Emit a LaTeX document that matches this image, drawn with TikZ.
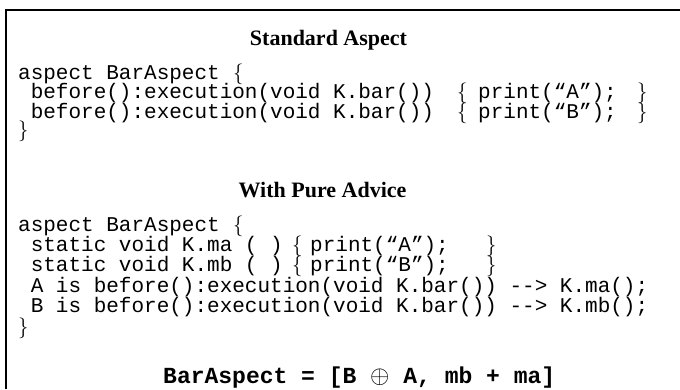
\documentclass[tikz,border=0pt]{standalone}
\usepackage{fontspec}
\setmainfont{Liberation Serif}
\setmonofont{Liberation Mono}
\newcommand\codefont{\fontsize{21}{21}\selectfont\ttfamily}
\newcommand\sumfont{\fontsize{23}{23}\selectfont\ttfamily\bfseries}
\newcommand\headfont{\fontsize{22}{22}\selectfont\bfseries}
\begin{document}
\begin{tikzpicture}[x=1pt,y=-1pt,
  code/.style={anchor=base west, inner sep=0pt, font=\codefont,
               text height=0.62em, text depth=0.12em},
  head/.style={anchor=base, inner sep=0pt, font=\headfont},
  frame/.style={line width=2pt}]
\useasboundingbox (0,0) rectangle (680,389);

% open frame: top and left edges only
\coordinate (tr) at (680,10);
\coordinate (tl) at (6,10);
\coordinate (bl) at (6,389);
\draw[frame] (tr) -- (tl) -- (bl);

% ---- standard aspect ----
\node[head] (h1) at (328.5,45) {Standard Aspect};
\node[code] (a1) at (18,79) {aspect BarAspect};
\node[code] (a1o) at (233,79) {$\{$};
\node[code] (a2) at (30.6,98) {before():execution(void K.bar())};
\node[code] (a2o) at (457,98) {$\{$};
\node[code] (a2b) at (478,98) {print(“A”);};
\node[code] (a2c) at (637,98) {$\}$};
\node[code] (a3) at (30.6,118) {before():execution(void K.bar())};
\node[code] (a3o) at (457,118) {$\{$};
\node[code] (a3b) at (478,118) {print(“B”);};
\node[code] (a3c) at (637,118) {$\}$};
\node[code] (a4) at (18,136) {$\}$};

% ---- pure advice ----
\node[head] (h2) at (322.5,197) {With Pure Advice};
\node[code] (b1) at (18,231) {aspect BarAspect};
\node[code] (b1o) at (233,231) {$\{$};
\node[code] (b2) at (30.6,251) {static void K.ma ( )};
\node[code] (b2o) at (292,251) {$\{$};
\node[code] (b2b) at (310,251) {print(“A”);};
\node[code] (b2c) at (486,251) {$\}$};
\node[code] (b3) at (30.6,271) {static void K.mb ( )};
\node[code] (b3o) at (292,271) {$\{$};
\node[code] (b3b) at (310,271) {print(“B”);};
\node[code] (b3c) at (486,271) {$\}$};
\node[code] (b4) at (30.6,292) {A is before():execution(void K.bar()) --> K.ma();};
\node[code] (b5) at (30.6,312) {B is before():execution(void K.bar()) --> K.mb();};
\node[code] (b6) at (18,333) {$\}$};

% ---- composition ----
\node[anchor=base west, inner sep=0pt, font=\sumfont] (sum) at (163,383)
  {BarAspect = [B $\oplus$ A, mb + ma]};
\end{tikzpicture}
\end{document}
